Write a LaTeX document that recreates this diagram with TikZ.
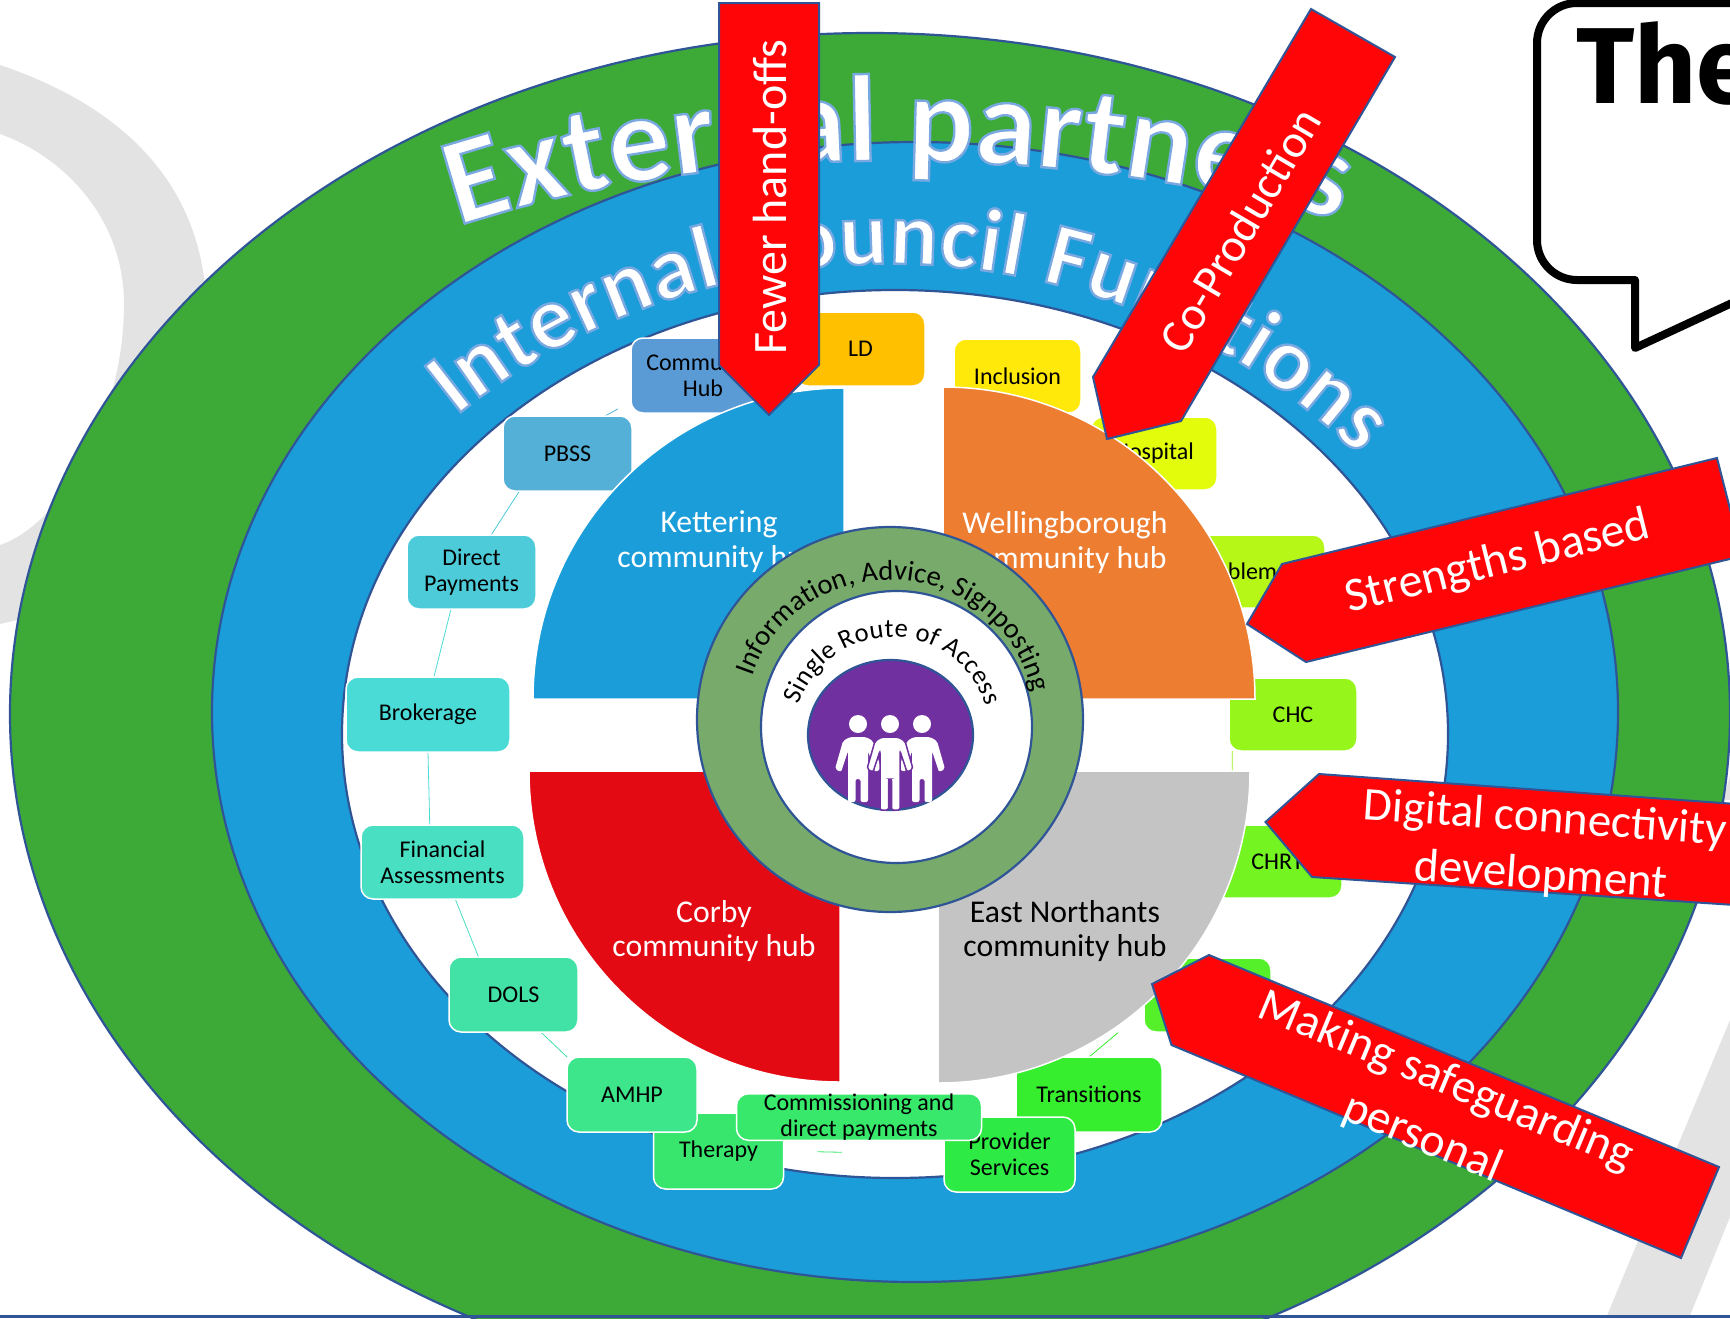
\documentclass[tikz,border=0pt]{standalone}
\usepackage{fontspec}
\setmainfont{Carlito}
\newfontfamily\bubblefont{Fira Sans}
\usetikzlibrary{decorations.text,calc}
\pgfdeclarelayer{back}
\pgfdeclarelayer{links}
\pgfsetlayers{back,links,main}
\definecolor{edgeblue}{HTML}{2F5597}
\definecolor{outergreen}{HTML}{3DAA38}
\definecolor{midblue}{HTML}{1B9DDA}
\definecolor{ringgreen}{HTML}{78AB6B}
\definecolor{purplec}{HTML}{7030A0}
\definecolor{greyband}{HTML}{E3E3E3}
\definecolor{arrowred}{HTML}{FF0508}
\definecolor{ketc}{HTML}{1B9DDA}
\definecolor{welc}{HTML}{ED7D31}
\definecolor{corc}{HTML}{E30A14}
\definecolor{easc}{HTML}{C4C4C4}
\definecolor{fcomm}{HTML}{5B9BD5}
\definecolor{fld}{HTML}{FFC000}
\definecolor{fincl}{HTML}{FFE90A}
\definecolor{fhosp}{HTML}{E2FC0C}
\definecolor{fprob}{HTML}{B6F718}
\definecolor{fchc}{HTML}{96F51A}
\definecolor{fchrt}{HTML}{74F522}
\definecolor{fhid}{HTML}{55F02A}
\definecolor{ftran}{HTML}{36ED2E}
\definecolor{fprov}{HTML}{2EEA44}
\definecolor{fcom}{HTML}{38E86A}
\definecolor{fther}{HTML}{38E66E}
\definecolor{famhp}{HTML}{3DE58B}
\definecolor{fdols}{HTML}{42E2A6}
\definecolor{ffin}{HTML}{49DFC3}
\definecolor{fbrok}{HTML}{4BDBD7}
\definecolor{fdir}{HTML}{4DCBD9}
\definecolor{fpbss}{HTML}{55B0D8}
\newcommand\fsz[2]{\fontsize{#1}{#2}\selectfont}
\newcommand\outlined{\special{pdf:code 2 Tr 2.4 w 0.48 0.66 0.88 RG}}
\tikzset{
  ring/.style={draw=edgeblue,line width=2.2pt},
  hubbox/.style={rectangle,rounded corners=12pt,draw=white,line width=1.5pt,inner sep=0pt,outer sep=0pt,align=center,text=black,font=\fsz{24}{26}},
  link/.style={line width=0.8pt},
  sector/.style={draw=white,line width=1.5pt},
  hubtext/.style={align=center,font=\fsz{31.7}{34.5},inner sep=0pt},
  redarrow/.style={fill=arrowred,draw=edgeblue,line width=2pt,line join=miter},
  arrowtext/.style={text=white,align=center,inner sep=0pt},
  personfig/.style={fill=white,rounded corners=2pt},
}
\begin{document}
\begin{tikzpicture}[x=1pt,y=-1pt]
\useasboundingbox (0,0) rectangle (1730,1318);
\clip (0,0) rectangle (1730,1318);
\begin{pgfonlayer}{back}
\fill[white] (0,0) rectangle (1730,1318);
\fill[greyband] (0,65) .. controls (80,92) and (190,150) .. (205,285) -- (205,340) -- (60,610) -- (0,624) -- (0,545)
  .. controls (60,525) and (124,420) .. (124,304) .. controls (124,215) and (60,155) .. (0,134) -- cycle;
\fill[greyband] (1606,1318) -- (1730,1020) -- (1730,1217) -- (1689,1318) -- cycle;
\fill[greyband] (1730,776) -- (1723,800) -- (1730,800) -- cycle;
\path[ring,fill=outergreen] (870,714) ellipse [x radius=860,y radius=681];
\path[ring,fill=midblue] (915,712) ellipse [x radius=703,y radius=570];
\path[ring,fill=white] (895,734) ellipse [x radius=553,y radius=444];
\path[decorate,decoration={text along path,text align={fit to path},
   text={|\bfseries\fsz{124}{124}\color{white}\outlined|External partners}}]
   (458,226) .. controls (720,140) and (1045,140) .. (1340,220);
\path[decorate,decoration={text along path,text align={fit to path},
   text={|\bfseries\fsz{90}{90}\color{white}\outlined|Internal Council Functions}}]
   (456,416) .. controls (715,207) and (1105,207) .. (1358,455);
\end{pgfonlayer}

% function boxes
\node[hubbox,fill=fcomm,minimum width=144pt,minimum height=75pt] (community) at (703,375.5) {Community\\Hub};
\node[hubbox,fill=fld,minimum width=129pt,minimum height=74pt] (ld) at (860.5,349) {LD};
\node[hubbox,fill=fincl,minimum width=127pt,minimum height=74pt] (inclusion) at (1017.5,376) {Inclusion};
\node[hubbox,fill=fhosp,minimum width=126pt,minimum height=73pt] (hospital) at (1154,453.5) {Hospital};
\node[hubbox,fill=fprob,minimum width=129pt,minimum height=73pt] (problem) at (1260.5,571.5) {};
\node[text=black,font=\fsz{24}{26},inner sep=0pt] (problemlabel) at (1236,571.5) {Problem};
\node[hubbox,fill=fchc,minimum width=128pt,minimum height=73pt] (chc) at (1293,714.5) {CHC};
\node[hubbox,fill=fchrt,minimum width=129pt,minimum height=73pt] (chrt) at (1277.5,861.5) {CHRT};
\node[hubbox,fill=fhid,minimum width=127pt,minimum height=74pt] (hidden) at (1207.5,995) {};
\node[hubbox,fill=ftran,minimum width=146pt,minimum height=75pt] (transitions) at (1089,1094.5) {Transitions};
\node[hubbox,fill=fther,minimum width=130pt,minimum height=76pt] (therapy) at (718.5,1151) {Therapy};
\node[hubbox,fill=fprov,minimum width=131pt,minimum height=75pt] (provider) at (1009.5,1154.5) {Provider\\Services};
\node[hubbox,fill=famhp,minimum width=130pt,minimum height=75pt] (amhp) at (632,1094.5) {AMHP};
\node[hubbox,fill=fcom,minimum width=245pt,minimum height=44pt] (commissioning) at (859,1117) {Commissioning and\\direct payments};
\node[hubbox,fill=fdols,minimum width=129pt,minimum height=75pt] (dols) at (513.5,994.5) {DOLS};
\node[hubbox,fill=ffin,minimum width=163pt,minimum height=74pt] (financial) at (442.5,862) {Financial\\Assessments};
\node[hubbox,fill=fbrok,minimum width=164pt,minimum height=75pt] (brokerage) at (428,714.5) {Brokerage};
\node[hubbox,fill=fdir,minimum width=129pt,minimum height=74pt] (direct) at (471.5,572) {Direct\\Payments};
\node[hubbox,fill=fpbss,minimum width=129pt,minimum height=75pt] (pbss) at (567.5,453.5) {PBSS};

% thin links between the boxes
\begin{pgfonlayer}{links}
\draw[link,draw=fpbss,shorten >=15pt] (pbss.45) -- (community.200);
\draw[link,draw=fdir] (direct.62) -- (pbss.218);
\draw[link,draw=fbrok] (brokerage.81) -- (direct.241);
\draw[link,draw=fbrok] (brokerage.south) -- (financial.109);
\draw[link,draw=ffin] (financial.-71) -- (dols.133);
\draw[link,draw=fdols] (dols.-54) -- (amhp.150);
\draw[link,draw=fcom,shorten <=34pt,shorten >=102pt] (therapy.east) -- (provider.west);
\draw[link,draw=ftran,shorten >=34pt] (transitions.north) -- (hidden.194);
\draw[link,draw=fchc] (chc.211) -- (chrt.141);
\end{pgfonlayer}

% hub sectors
\path[sector,fill=ketc] (844,699) -- (533,699) arc [start angle=180,end angle=270,radius=311] -- cycle;
\path[sector,fill=welc] (943,699) -- (943,387) arc [start angle=270,end angle=360,radius=312] -- cycle;
\path[sector,fill=corc] (840,771) -- (529,771) arc [start angle=180,end angle=90,radius=311] -- cycle;
\path[sector,fill=easc] (938,771) -- (938,1083) arc [start angle=90,end angle=0,radius=312] -- cycle;
\node[hubtext,text=white] (kettering) at (719,541.5) {Kettering\\community hub};
\node[hubtext,text=white] (wellingborough) at (1065,542.5) {Wellingborough\\community hub};
\node[hubtext,text=white] (corby) at (714,931) {Corby\\community hub};
\node[hubtext,text=black] (eastn) at (1065,931) {East Northants\\community hub};

% central rings
\path[ring,fill=ringgreen] (890,719.5) ellipse [x radius=193,y radius=192.5];
\path[ring,fill=white] (896.5,727) ellipse [x radius=135.5,y radius=136];
\path[ring,fill=purplec] (890.5,735) ellipse [x radius=82.5,y radius=75];
\path[decorate,decoration={text along path,text align={fit to path},
   text={|\fsz{28.5}{30}\color{black}|Information, Advice, Signposting}}]
   ([shift={(198:145 and 140)}]890,720) arc [start angle=198,end angle=347,x radius=145,y radius=140];
\path[decorate,decoration={text along path,text align={fit to path},
   text={|\fsz{26.5}{28}\color{black}|Single Route of Access}}]
   ([shift={(198:98 and 98)}]892,735) arc [start angle=198,end angle=343,radius=98];
% people
\foreach \px/\py/\lw in {858/724/0,922/724/0,890/724/1.5}{
  \begin{scope}[shift={(\px,\py)}]
  \fill[white] (0,0) circle [radius=9];
  \ifdim \lw pt>0pt
  \path[personfig,draw=purplec,line width=1.5pt] (-8,13) -- (8,13) -- (15,17) -- (23,45) -- (17,48) -- (10,27) -- (10,86) -- (1.5,86) -- (1.5,55) -- (-1.5,55) -- (-1.5,86) -- (-10,86) -- (-10,27) -- (-17,48) -- (-23,45) -- (-15,17) -- cycle;
  \else
  \path[personfig] (-8,13) -- (8,13) -- (15,17) -- (23,45) -- (17,48) -- (10,27) -- (10,78) -- (2.5,78) -- (2.5,55) -- (-2.5,55) -- (-2.5,78) -- (-10,78) -- (-10,27) -- (-17,48) -- (-23,45) -- (-15,17) -- cycle;
  \fi
  \end{scope}
}

% red arrows
\path[redarrow] (719,3) -- (819,3) -- (819,365) -- (769,415) -- (719,365) -- cycle;
\node[arrowtext,font=\fsz{48}{52},rotate=90] (fewer) at (770,197) {Fewer hand-offs};
\path[redarrow] (1311,9) -- (1395,57) -- (1181,421) -- (1107,439) -- (1093,377) -- cycle;
\node[arrowtext,font=\fsz{47}{50},rotate=59.5] (coprod) at (1240,230) {Co-Production};
\path[redarrow] (1717,458) -- (1742,556) -- (1306,662) -- (1247,624) -- (1282,564) -- cycle;
\node[arrowtext,font=\fsz{48}{52},rotate=14] (strengths) at (1498,563) {Strengths based};
\path[redarrow] (1319,774) -- (1750,805) -- (1750,906) -- (1312,877) -- (1265.5,822) -- cycle;
\node[arrowtext,font=\fsz{47}{57},rotate=-4] (digital) at (1543,848) {Digital connectivity\\development};
\path[redarrow] (1209,955) -- (1719,1167) -- (1681,1258) -- (1171.5,1045) -- (1152,984) -- cycle;
\node[arrowtext,font=\fsz{47.5}{62},rotate=-22.6] (making) at (1434,1110) {Making safeguarding\\personal};

% speech bubble
\draw[line width=8pt,line join=round,fill=white] (1760,3) -- (1577,3) arc [start angle=270,end angle=180,radius=40] -- (1537,240) arc [start angle=180,end angle=90,radius=40] -- (1635,280) -- (1635,348) -- (1760,290) -- cycle;
\node[anchor=base west,inner sep=0pt,font=\bubblefont\bfseries\fsz{108}{108}] (bubbletext) at (1576,103) {The};

% bottom rule
\fill[edgeblue] (0,1315) rectangle (1730,1318);
\end{tikzpicture}
\end{document}
